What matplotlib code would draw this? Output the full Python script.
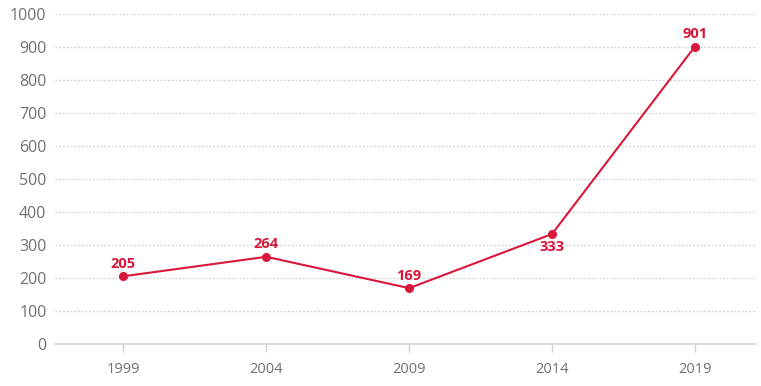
import matplotlib.pyplot as plt

years = [1999, 2004, 2009, 2014, 2019]
values = [205, 264, 169, 333, 901]
label_pos = ['above', 'above', 'above', 'below', 'above']
yticks = list(range(0, 1001, 100))

red = '#d9173b'
grey = '#707070'

plt.rcParams['font.family'] = ['Open Sans', 'DejaVu Sans']

fig = plt.figure(figsize=(7.61, 3.86), dpi=100)
ax = fig.add_axes([0.072, 0.109, 0.92, 0.855])

for t in yticks[1:]:
    ax.axhline(t, color='#d2d2d2', lw=0.9, ls=(0, (1.5, 1.5)), zorder=1)
ax.axhline(0, color='#d4d4d4', lw=1.2, zorder=1, clip_on=False)

ax.plot(years, values, color=red, lw=1.5, marker='o', ms=5.5, zorder=3, clip_on=False)
for x, v, p in zip(years, values, label_pos):
    off = 4 if p == 'above' else -4
    ax.annotate(str(v), (x, v), xytext=(0, off), textcoords='offset points',
                ha='center', va='bottom' if p == 'above' else 'top',
                color=red, fontsize=10.5, fontweight='bold')

ax.set_xlim(1996.6, 2021.1)
ax.set_ylim(0, 1000)
ax.set_xticks(years)
ax.set_yticks(yticks)
for s in ax.spines.values():
    s.set_visible(False)
ax.tick_params(axis='x', colors='#d0d0d0', length=6, width=1, labelcolor=grey, labelsize=10.5, pad=7)
ax.tick_params(axis='y', length=0, labelcolor=grey, labelsize=11.5, pad=6)

fig.savefig('out.png', dpi=100)
